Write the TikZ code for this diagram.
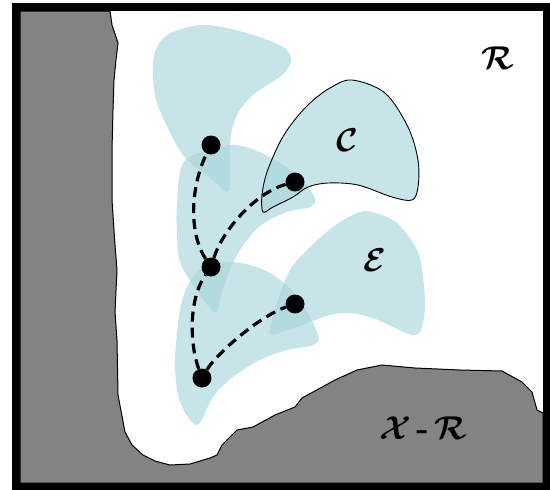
\RequirePackage{fix-cm}
\documentclass[tikz,border=0pt]{standalone}
\usepackage{amsmath}
\definecolor{rock}{HTML}{838383}
\definecolor{reach}{RGB}{165,212,218}
\tikzset{
  frame/.style={draw=black,line width=8pt},
  obstacle/.style={fill=rock,draw=black,line width=1pt},
  fan/.style={fill=reach,fill opacity=.62,draw=none},
  bounded/.style={draw=black,line width=.9pt},
  vertex/.style={circle,fill=black,inner sep=0pt,minimum size=19pt},
  link/.style={dash pattern=on 10pt off 6pt,line width=3.2pt},
  region/.style={font=\fontsize{33}{40}\selectfont,inner sep=0pt}
}
\begin{document}
\begin{tikzpicture}[x=1pt,y=-1pt]
\useasboundingbox (0,0) rectangle (550,490);
\filldraw[obstacle] (20,11) -- (110,11) -- (112,25) -- (118,43) -- (116,60)
  -- (114,80) -- (113,110) -- (112,150) -- (112,200) -- (115,245) -- (117,270)
  -- (115,312) -- (117,340) -- (118,395) -- (125,432) -- (132,445) -- (143,455)
  -- (155,461) -- (170,465) -- (190,464) -- (210,458) -- (217,455) -- (222,445)
  -- (237,430) -- (253,427) -- (275,415) -- (295,407) -- (302,398) -- (335,380)
  -- (357,370) -- (382,365) -- (415,368) -- (460,370) -- (502,371) -- (522,382)
  -- (532,392) -- (537,410) -- (543,413) -- (543,483) -- (20,483) -- cycle;

\path[fan] plot[smooth cycle,tension=.55] coordinates {(153,62) (160,42) (175,31)
  (207,25) (250,34) (283,47) (291,60) (282,75) (253,95) (237,115) (230,142)
  (230,180) (227,192) (210,178) (183,155) (165,122) (155,95)};
\path[fan] plot[smooth cycle,tension=.55] coordinates {(183,163) (210,150)
  (237,145) (270,157) (300,178) (315,198) (310,207) (287,212) (260,226)
  (240,250) (227,277) (220,300) (216,313) (205,302) (192,283) (180,262)
  (177,235) (177,205)};
\path[fan] plot[smooth cycle,tension=.55] coordinates {(188,285) (200,270)
  (225,262) (250,265) (275,276) (300,300) (318,335) (313,345) (287,350)
  (260,360) (233,377) (213,397) (197,425) (180,402) (175,367) (177,333)
  (181,305)};
\path[fan] plot[smooth cycle,tension=.55] coordinates {(270,333) (278,300)
  (290,270) (307,250) (333,227) (357,213) (372,212) (397,223) (417,250)
  (423,277) (425,307) (421,330) (412,335) (393,327) (373,318) (350,313)
  (330,315) (310,322) (288,330)};
\path[fan] plot[smooth cycle,tension=.55] coordinates {(263,212) (262,195)
  (267,172) (280,142) (293,122) (310,103) (330,88) (352,80) (385,93) (408,127)
  (418,160) (418,187) (412,200) (392,197) (358,185) (328,183) (308,187)
  (293,197) (273,207)};
\draw[bounded] plot[smooth cycle,tension=.55] coordinates {(263,212) (262,195)
  (267,172) (280,142) (293,122) (310,103) (330,88) (352,80) (385,93) (408,127)
  (418,160) (418,187) (412,200) (392,197) (358,185) (328,183) (308,187)
  (293,197) (273,207)};

\node[vertex] (root) at (202,378) {};
\node[vertex] (vmid) at (211,267) {};
\node[vertex] (vlow) at (295,304) {};
\node[vertex] (vtop) at (211,145) {};
\node[vertex] (vnew) at (295,182) {};
\draw[link] (root) .. controls +(-12,-33) and +(-23,33) .. (vmid);
\draw[link] (vmid) .. controls +(-23,-35) and +(-20,40) .. (vtop);
\draw[link] (root) .. controls +(15,-25) and +(-35,12) .. (vlow);
\draw[link] (vmid) .. controls +(12,-38) and +(-38,10) .. (vnew);

\node[region] (free) at (498,58) {$\boldsymbol{\mathcal{R}}$};
\node[region] (goal) at (347,140) {$\boldsymbol{\mathcal{C}}$};
\node[region] (reach) at (375,260) {$\boldsymbol{\mathcal{E}}$};
\node[region] (blocked) at (423,428)
  {$\boldsymbol{\mathcal{X}}\,\textbf{-}\,\boldsymbol{\mathcal{R}}$};

\draw[frame] (16,7) rectangle (546.5,486.5);
\end{tikzpicture}
\end{document}
